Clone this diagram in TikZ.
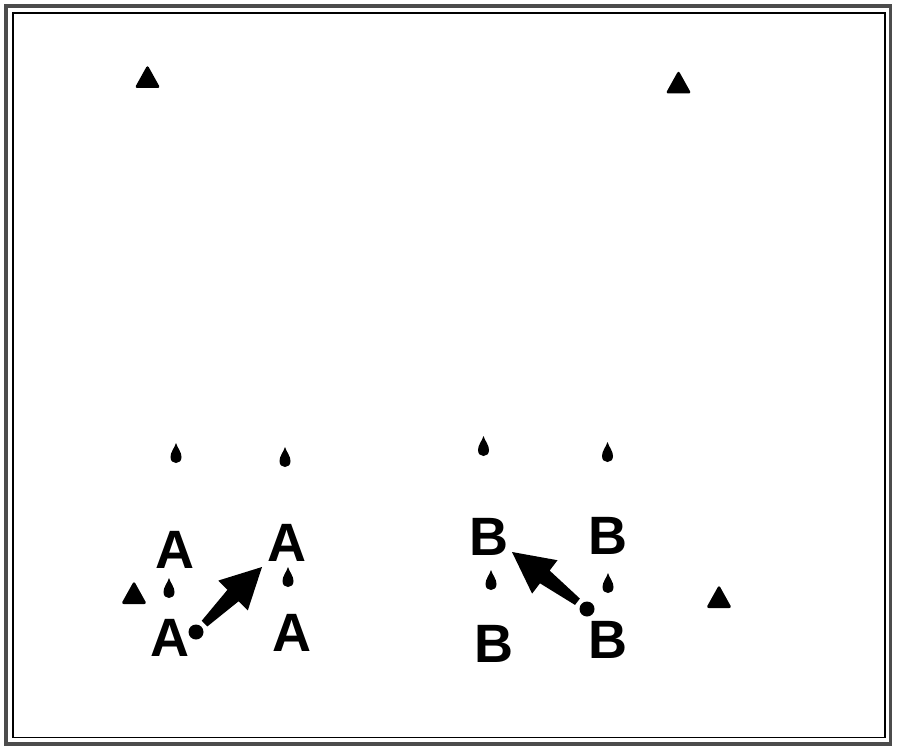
\documentclass[tikz,border=0pt]{standalone}
\usepackage{fontspec}
\setmainfont{Liberation Sans}
\usetikzlibrary{calc}
\tikzset{
  letter/.style={inner sep=0pt, font=\fontsize{54}{54}\selectfont\bfseries},
  dotc/.style={circle, fill=black, minimum size=15pt, inner sep=0pt},
  drop/.pic={\fill (0,-10) .. controls (1.5,-5) and (5.5,-1) .. (5.5,4) .. controls (5.5,8) and (3,10) .. (0,10) .. controls (-3,10) and (-5.5,8) .. (-5.5,4) .. controls (-5.5,-1) and (-1.5,-5) .. (0,-10) -- cycle;},
  tri/.pic={\fill[rounded corners=2.5pt] (0,-11.5) -- (12.8,11.5) -- (-12.8,11.5) -- cycle;}
}
\begin{document}
\begin{tikzpicture}[x=1pt,y=-1pt]
\useasboundingbox (0,0) rectangle (900,752);
% frame
\draw[line width=3.4pt, black!70] (6,6) rectangle (890.5,744);
\draw[line width=1.2pt] (13,13) rectangle (885,737.5);
% triangles
\pic at (147.5,76.5) {tri};
\pic at (678.5,82) {tri};
\pic at (134,592.5) {tri};
\pic at (719,596.5) {tri};
% drops
\pic at (176,453) {drop};
\pic at (285,457) {drop};
\pic at (169,588) {drop};
\pic at (288,577) {drop};
\pic at (483.5,446) {drop};
\pic at (607.5,452) {drop};
\pic at (491,580) {drop};
\pic at (608,583) {drop};
% letters
\node[letter] (a1) at (175,550) {A};
\node[letter] (a2) at (286.5,542.5) {A};
\node[letter] (a3) at (170,638) {A};
\node[letter] (a4) at (291.5,632.5) {A};
\node[letter] (b1) at (489,537) {B};
\node[letter] (b2) at (607.5,536) {B};
\node[letter] (b3) at (494,643.5) {B};
\node[letter] (b4) at (607.5,640) {B};
% arrow A
\node[dotc] (ca) at (196,632) {};
\coordinate (ta) at (262,567);
\path ($(ca)!12pt!(ta)$) coordinate (ap) ($(ca)!52pt!(ta)$) coordinate (aq);
\fill ($(ap)!4pt!90:(ta)$) -- ($(aq)!8pt!90:(ta)$) -- ($(aq)!21pt!90:(ta)$) -- (ta)
  -- ($(aq)!21pt!-90:(ta)$) -- ($(aq)!8pt!-90:(ta)$) -- ($(ap)!4pt!-90:(ta)$) -- cycle;
% arrow B
\node[dotc] (cb) at (587,609) {};
\coordinate (tb) at (512,552);
\path ($(cb)!12pt!(tb)$) coordinate (bp) ($(cb)!53pt!(tb)$) coordinate (bq);
\fill ($(bp)!4pt!90:(tb)$) -- ($(bq)!8pt!90:(tb)$) -- ($(bq)!21pt!90:(tb)$) -- (tb)
  -- ($(bq)!21pt!-90:(tb)$) -- ($(bq)!8pt!-90:(tb)$) -- ($(bp)!4pt!-90:(tb)$) -- cycle;
\end{tikzpicture}
\end{document}
